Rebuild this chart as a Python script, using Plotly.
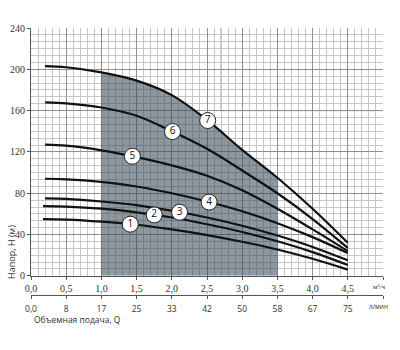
import numpy as np
import plotly.graph_objects as go

# Flow rate points (m³/h) where each head curve was sampled
q_points = [0.2, 0.5, 1.0, 1.5, 2.0, 2.5, 3.0, 3.5, 4.0, 4.5]
q_start = [0.17, 0.17, 0.2, 0.2, 0.2, 0.2, 0.2]

# Head H (m) for pump models 1..7
head_1 = [55, 54.5, 52.5, 49.5, 45, 39.5, 33, 25.5, 16.5, 6]
head_2 = [67.5, 67, 65, 61.5, 56.5, 50, 42.5, 33.5, 23, 10.5]
head_3 = [75, 74.5, 72, 68.5, 63, 56.5, 48.5, 39, 28, 15]
head_4 = [94, 93.5, 91, 86.5, 80, 72, 62.5, 51, 37.5, 22]
head_5 = [127, 126, 121.5, 115, 107, 97, 83, 65, 45, 24]
head_6 = [168, 167, 163, 155, 140, 123, 102, 80, 55, 27]
head_7 = [203, 202, 197, 189, 175, 151, 122, 95, 65, 32]
curves = [head_1, head_2, head_3, head_4, head_5, head_6, head_7]
curve_names = ["1", "2", "3", "4", "5", "6", "7"]

# Where the numbered badges sit along each curve
badge_q = [1.41, 1.75, 2.11, 2.53, 1.44, 2.01, 2.51]

# Recommended working range (m³/h)
work_range = [1.0, 3.5]

# Axis tick labels
x_ticks = [0, 0.5, 1.0, 1.5, 2.0, 2.5, 3.0, 3.5, 4.0, 4.5, 5.0]
x_tick_text = ["0,0", "0,5", "1,0", "1,5", "2,0", "2,5", "3,0", "3,5", "4,0", "4,5", ""]
lpm_tick_text = ["0,0", "8", "17", "25", "33", "42", "50", "58", "67", "75", ""]
y_ticks = [0, 40, 80, 120, 160, 200, 240]

SERIF = "Liberation Serif"
SANS = "Open Sans"
TXT = "#333333"

fig = go.Figure()

# Shaded working zone under the top curve
zone_q = [q for q in q_points if work_range[0] <= q <= work_range[1]]
zone_h = [h for q, h in zip(q_points, head_7) if work_range[0] <= q <= work_range[1]]
fig.add_trace(go.Scatter(
    x=zone_q, y=zone_h, mode="lines", fill="tozeroy",
    line=dict(width=0, shape="spline"),
    fillcolor="rgba(50,70,86,0.56)", hoverinfo="skip", showlegend=False,
))

# Head curves
for i, h in enumerate(curves):
    xs = [q_start[i]] + q_points[1:]
    fig.add_trace(go.Scatter(
        x=xs, y=h, mode="lines",
        line=dict(color="#111111", width=2.2, shape="spline"),
        showlegend=False, hoverinfo="skip",
    ))

# Numbered badges placed on their curves
badge_h = []
for i, h in enumerate(curves):
    xs = [q_start[i]] + q_points[1:]
    badge_h.append(float(np.interp(badge_q[i], xs, h)))
fig.add_trace(go.Scatter(
    x=badge_q, y=badge_h, mode="markers+text", text=curve_names,
    textposition="middle center",
    textfont=dict(family=SANS, size=10, color="#111111"),
    marker=dict(size=16, color="white", line=dict(color="#222222", width=1)),
    showlegend=False, hoverinfo="skip",
))

# Invisible trace to carry the secondary (l/min) axis
fig.add_trace(go.Scatter(x=[0, 5], y=[None, None], xaxis="x2", yaxis="y",
                         showlegend=False, hoverinfo="skip"))

# Darker ruling on the grid paper
fig.add_shape(type="line", x0=2.7, x1=2.7, y0=160, y1=240,
              line=dict(color="#8a8a8a", width=1), layer="below")
fig.add_shape(type="line", x0=2.7, x1=5.0, y0=160, y1=160,
              line=dict(color="#8a8a8a", width=1), layer="below")

bottom = 10
top = 28
paper_h = 350 - top - bottom
y_dom0 = (350 - bottom - 280.7) / paper_h
x2_pos = (350 - bottom - 300.5) / paper_h


def py(pix):
    return (350 - bottom - pix) / paper_h


def px(pix):
    return (pix - 26) / 357


fig.update_layout(
    width=400, height=350,
    margin=dict(l=26, r=17, t=top, b=bottom),
    paper_bgcolor="white", plot_bgcolor="white",
    xaxis=dict(
        range=[0, 5.0], tickvals=x_ticks, ticktext=x_tick_text,
        showgrid=True, gridcolor="#8f8f8f", gridwidth=1,
        minor=dict(dtick=0.1, tick0=0, showgrid=True, gridcolor="#c6c6c6", gridwidth=1),
        showline=True, linecolor="#555555", linewidth=1,
        ticks="outside", ticklen=3, tickcolor="#555555",
        tickfont=dict(family=SERIF, size=10, color=TXT),
        zeroline=False, fixedrange=True,
    ),
    xaxis2=dict(
        range=[0, 5.0], overlaying="x", anchor="free", position=x2_pos, side="bottom",
        tickvals=x_ticks, ticktext=lpm_tick_text,
        showgrid=False, showline=True, linecolor="#555555", linewidth=1,
        ticks="outside", ticklen=3, tickcolor="#555555", ticklabelstandoff=3,
        tickfont=dict(family=SANS, size=8.5, color=TXT),
        zeroline=False, fixedrange=True,
    ),
    yaxis=dict(
        range=[0, 240], domain=[y_dom0, 1], tickvals=y_ticks,
        showgrid=True, gridcolor="#8f8f8f", gridwidth=1,
        minor=dict(dtick=40 / 6, tick0=0, showgrid=True, gridcolor="#c6c6c6", gridwidth=1),
        showline=True, linecolor="#555555", linewidth=1,
        ticks="outside", ticklen=3, tickcolor="#555555",
        tickfont=dict(family=SERIF, size=10, color=TXT),
        zeroline=False, fixedrange=True,
    ),
    annotations=[
        dict(text="Напор, H (м)", textangle=-90, xref="paper", yref="paper",
             x=px(6), y=py(256), showarrow=False, xanchor="center", yanchor="middle",
             font=dict(family=SANS, size=9, color=TXT)),
        dict(text="м³/ч", xref="paper", yref="paper", x=px(379), y=py(292),
             showarrow=False, xanchor="center", yanchor="middle",
             font=dict(family=SERIF, size=7, color=TXT)),
        dict(text="л/мин", xref="paper", yref="paper", x=px(378), y=py(312),
             showarrow=False, xanchor="center", yanchor="middle",
             font=dict(family=SANS, size=6.5, color=TXT)),
        dict(text="Объемная подача, Q", xref="paper", yref="paper", x=px(27), y=py(325),
             showarrow=False, xanchor="left", yanchor="middle",
             font=dict(family=SANS, size=8.5, color=TXT)),
    ],
)

fig.write_html("out.html")
